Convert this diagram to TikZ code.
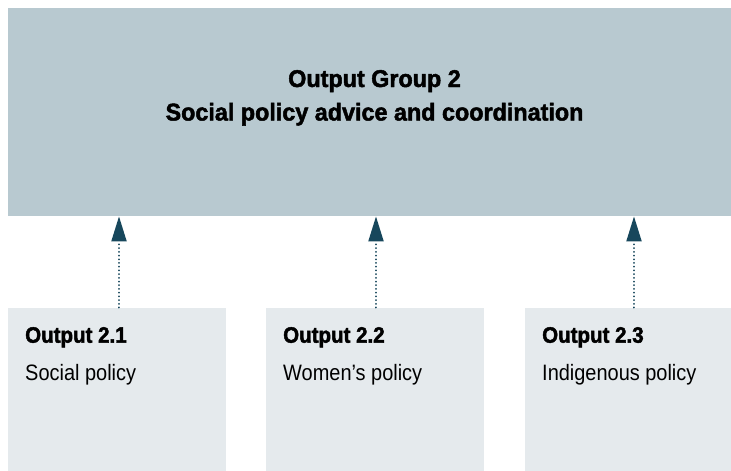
\documentclass[tikz,border=0pt]{standalone}
\usepackage{fontspec}
\setmainfont{Liberation Sans}[FakeStretch=0.895,
  BoldFeatures={FakeStretch=0.92,FakeBold=2}]
\newfontfamily\titlefont{Liberation Sans}[FakeStretch=0.965,
  BoldFeatures={FakeStretch=0.965,FakeBold=2}]
\usetikzlibrary{arrows.meta,positioning}

\definecolor{groupfill}{HTML}{B8C9D0}
\definecolor{outfill}{HTML}{E5EAED}
\definecolor{linkcol}{HTML}{17475C}

\tikzset{
  groupbox/.style={fill=groupfill, inner sep=0pt, anchor=north west,
    minimum width=723pt, minimum height=208pt},
  outbox/.style={fill=outfill, inner sep=0pt, anchor=north west,
    minimum width=218pt, minimum height=164pt},
  grouptext/.style={anchor=base, inner sep=0pt, font=\titlefont\fontsize{24.2}{29}\selectfont\bfseries},
  outhead/.style={anchor=base west, inner sep=0pt, font=\fontsize{22.3}{27}\selectfont\bfseries},
  outbody/.style={anchor=base west, inner sep=0pt, font=\fontsize{22.3}{27}\selectfont},
  link/.style={linkcol, line width=2pt, line cap=round, dash pattern=on 0.01pt off 3.7pt,
    arrows={-Triangle[length=25pt, width=15pt]}}
}

\begin{document}
\begin{tikzpicture}[x=1pt, y=1pt]
\useasboundingbox (0,0) rectangle (731,-471);
% =====================
% OUTPUT GROUP
% =====================
\node[groupbox] (group) at (8,-8) {};
\node[grouptext] (gtitle) at (374.5,-87) {Output Group 2};
\node[grouptext] (gsub) at (374.5,-120.5) {Social policy advice and coordination};

% =====================
% OUTPUTS
% =====================
\node[outbox] (out1) at (8,-307.5) {};
\node[outbox] (out2) at (266,-307.5) {};
\node[outbox] (out3) at (525,-307.5) {};

\node[outhead] (head1) at ([xshift=17pt,yshift=-35.2pt]out1.north west) {Output 2.1};
\node[outbody] (body1) at ([xshift=17pt,yshift=-73pt]out1.north west) {Social policy};
\node[outhead] (head2) at ([xshift=17pt,yshift=-35.2pt]out2.north west) {Output 2.2};
\node[outbody] (body2) at ([xshift=17pt,yshift=-73pt]out2.north west) {Women’s policy};
\node[outhead] (head3) at ([xshift=17pt,yshift=-35.2pt]out3.north west) {Output 2.3};
\node[outbody] (body3) at ([xshift=17pt,yshift=-73pt]out3.north west) {Indigenous policy};

% =====================
% LINKS
% =====================
\draw[link] ([xshift=111pt]out1.north west) -- ([xshift=111pt]out1.north west |- group.south);
\draw[link] ([xshift=110pt]out2.north west) -- ([xshift=110pt]out2.north west |- group.south);
\draw[link] ([xshift=109pt]out3.north west) -- ([xshift=109pt]out3.north west |- group.south);

\end{tikzpicture}
\end{document}
